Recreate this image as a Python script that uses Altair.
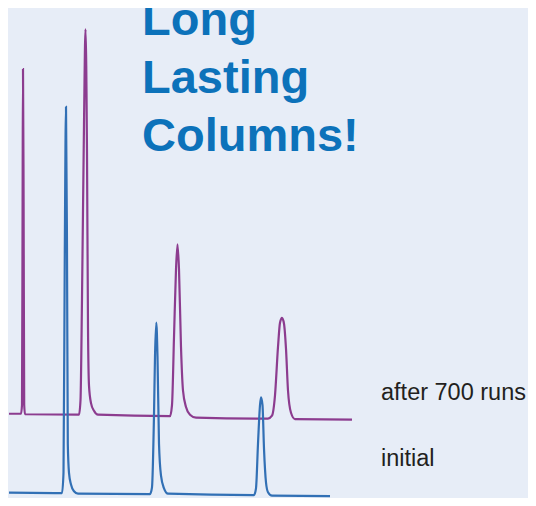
import altair as alt
import pandas as pd

# Chromatogram traces (x = retention position, y = detector position, pixel-like units)
after_x = [9, 21, 22, 22.6, 23, 23.6, 24.2, 25, 79, 80.5, 82, 84, 85.5, 87, 88, 89, 91, 94, 98,
           170, 172, 174, 176, 177.5, 179, 181, 183, 186, 190, 196,
           268, 272, 275, 278, 280, 282, 284, 286, 288, 291, 295, 352]
after_y = [419, 419, 410, 200, 63, 200, 410, 419.5, 420, 405, 300, 120, 22, 150, 330, 390, 408, 416, 420,
           421.5, 410, 340, 270, 244, 270, 350, 395, 412, 420, 423,
           424, 421, 400, 350, 325, 320, 326, 352, 395, 418, 424.5, 425]

initial_x = [9, 62, 63.5, 64.8, 66, 67, 67.8, 69, 71, 74, 78,
             150, 152, 154, 155, 156.3, 157.5, 159, 161, 164, 168,
             254, 256, 258, 260, 261, 262.5, 264, 266, 268, 272, 330]
initial_y = [500.5, 501, 480, 250, 102, 250, 450, 480, 492, 499, 501.5,
             502, 495, 420, 360, 325, 360, 450, 483, 496, 501.5,
             503, 496, 450, 410, 402, 410, 455, 490, 500, 503.5, 504]

series_names = ["after 700 runs", "initial"]
series_colors = ["#8C3C8F", "#3270B5"]

title_lines = ["Long", "Lasting", "Columns!"]
title_x = [142, 142, 142]
title_y = [27.5, 87.5, 147.5]

label_x = [381, 381]
label_y = [405, 473]

traces = pd.DataFrame(
    [{"t": x, "s": y, "series": series_names[0], "order": i} for i, (x, y) in enumerate(zip(after_x, after_y))]
    + [{"t": x, "s": y, "series": series_names[1], "order": i} for i, (x, y) in enumerate(zip(initial_x, initial_y))]
)
titles = pd.DataFrame({"text": title_lines, "t": title_x, "s": title_y})
labels = pd.DataFrame({"text": series_names, "t": label_x, "s": label_y})

xs = alt.Scale(domain=[8, 528], nice=False, zero=False)
ys = alt.Scale(domain=[0, 506], nice=False, zero=False, reverse=True)

lines = alt.Chart(traces).mark_line(strokeWidth=2.2, interpolate="monotone", clip=True).encode(
    x=alt.X("t:Q", scale=xs, axis=None),
    y=alt.Y("s:Q", scale=ys, axis=None),
    color=alt.Color("series:N", scale=alt.Scale(domain=series_names, range=series_colors), legend=None),
    detail="series:N",
    order="order:Q",
)

title_text = alt.Chart(titles).mark_text(
    align="left", baseline="alphabetic", font="Liberation Sans", fontWeight="bold",
    fontSize=47, color="#0C72BA",
).encode(x=alt.X("t:Q", scale=xs), y=alt.Y("s:Q", scale=ys), text="text:N")

label_text = alt.Chart(labels).mark_text(
    align="left", baseline="alphabetic", font="Liberation Sans", fontSize=23.5, color="#231F20",
).encode(x=alt.X("t:Q", scale=xs), y=alt.Y("s:Q", scale=ys), text="text:N")

chart = alt.layer(lines, title_text, label_text).properties(
    width=520, height=490, padding=0, background="#E7EDF7",
    autosize=alt.AutoSizeParams(type="none"),
).configure_view(stroke=None)

chart.save("out.html", embed_options={"renderer": "svg", "actions": False})
